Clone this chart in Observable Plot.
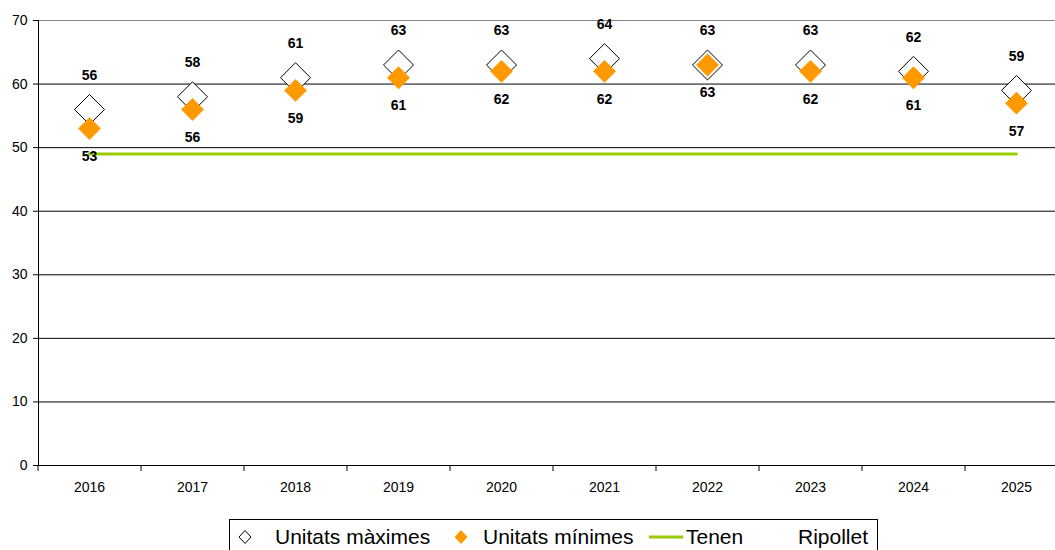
<!DOCTYPE html>
<html>
<head>
<meta charset="utf-8">
<script src="https://cdn.jsdelivr.net/npm/d3@7"></script>
<script src="https://cdn.jsdelivr.net/npm/@observablehq/plot@0.6"></script>
<style>
  html, body { margin: 0; padding: 0; background: #fff; overflow: hidden; width: 1055px; height: 550px; }
  body { font-family: "Liberation Sans", Arial, sans-serif; position: relative; }
  #chart svg { display: block; overflow: hidden; }
  #legend {
    position: absolute; left: 229px; top: 519px; width: 649px; height: 40px;
    border: 1px solid #000; box-sizing: border-box; background: #fff;
    font-size: 21px; color: #000; white-space: nowrap;
  }
  #legend .item { position: absolute; top: 5px; line-height: 24px; }
  #legend svg { position: absolute; }
</style>
</head>
<body>
<div id="chart"></div>
<div id="legend"></div>
<script>
const years = [2016, 2017, 2018, 2019, 2020, 2021, 2022, 2023, 2024, 2025];
const unitatsMaximes = [56, 58, 61, 63, 63, 64, 63, 63, 62, 59];
const unitatsMinimes = [53, 56, 59, 61, 62, 62, 63, 62, 61, 57];
const tenen = [49, 49, 49, 49, 49, 49, 49, 49, 49, 49];
const ripollet = [];
const yTicks = [0, 10, 20, 30, 40, 50, 60, 70];
const seriesNames = ["Unitats màximes", "Unitats mínimes", "Tenen", "Ripollet"];

const maxData = years.map((y, i) => ({year: y, value: unitatsMaximes[i]}));
const minData = years.map((y, i) => ({year: y, value: unitatsMinimes[i]}));
const tenenData = years.map((y, i) => ({year: y, value: tenen[i]}));
const boundaries = years.map(y => y - 0.5).concat([years[years.length - 1] + 0.5]);

const chart = Plot.plot({
  width: 1055,
  height: 512,
  marginLeft: 38,
  marginRight: 0,
  marginTop: 20,
  marginBottom: 47,
  style: {fontFamily: "Liberation Sans, Arial, sans-serif", fontSize: "13px", color: "#000", background: "#fff"},
  x: {type: "linear", domain: [years[0] - 0.5, years[years.length - 1] + 0.5], range: [37.5, 1067.5]},
  y: {domain: [0, 70], range: [465, 20]},
  marks: [
    Plot.ruleY(yTicks.filter(t => t < 70), {stroke: "#000", strokeWidth: 1}),
    Plot.ruleY([70], {stroke: "#888", strokeWidth: 1}),
    Plot.frame({anchor: "left", stroke: "#000"}),
    Plot.axisY({ticks: yTicks, tickSize: 5, tickPadding: 6, fontSize: 14, label: null, tickFormat: d => String(d)}),
    Plot.axisX({ticks: boundaries, tickSize: 6, tickFormat: () => "", label: null}),
    Plot.axisX({ticks: years, tickSize: 0, tickPadding: 17, fontSize: 14, label: null, tickFormat: d => String(d)}),
    ripollet.length ? Plot.line(ripollet, {x: "year", y: "value"}) : null,
    Plot.line(tenenData, {x: "year", y: "value", stroke: "#99cc00", strokeWidth: 3}),
    Plot.dot(maxData, {x: "year", y: "value", symbol: "diamond2", r: 13.5, fill: "#fff", stroke: "#000", strokeWidth: 1}),
    Plot.dot(minData, {x: "year", y: "value", symbol: "diamond2", r: 10.3, fill: "#ff9900", stroke: "none"}),
    Plot.text(maxData, {x: "year", y: "value", text: d => String(d.value), dy: -34, fontSize: 14, fontWeight: "bold", fill: "#000"}),
    Plot.text(minData, {x: "year", y: "value", text: d => String(d.value), dy: 28, fontSize: 14, fontWeight: "bold", fill: "#000"})
  ]
});
document.getElementById("chart").appendChild(chart);

// Legend
const legend = document.getElementById("legend");
const items = [
  {name: seriesNames[0], sym: "open", symX: 15, textX: 45},
  {name: seriesNames[1], sym: "fill", symX: 231, textX: 253},
  {name: seriesNames[2], sym: "line", symX: 419, textX: 456},
  {name: seriesNames[3], sym: "none", symX: 0, textX: 568}
];
for (const it of items) {
  if (it.sym === "open" || it.sym === "fill") {
    const s = document.createElementNS("http://www.w3.org/2000/svg", "svg");
    s.setAttribute("width", 16); s.setAttribute("height", 16);
    s.style.left = (it.symX - 8) + "px"; s.style.top = "9px";
    const p = document.createElementNS("http://www.w3.org/2000/svg", "path");
    p.setAttribute("d", it.sym === "open" ? "M8,1.5L14,8L8,14.5L2,8Z" : "M8,1L14.5,8L8,15L1.5,8Z");
    p.setAttribute("fill", it.sym === "open" ? "#fff" : "#ff9900");
    p.setAttribute("stroke", it.sym === "open" ? "#000" : "none");
    s.appendChild(p);
    legend.appendChild(s);
  } else if (it.sym === "line") {
    const s = document.createElementNS("http://www.w3.org/2000/svg", "svg");
    s.setAttribute("width", 34); s.setAttribute("height", 6);
    s.style.left = it.symX + "px"; s.style.top = "14px";
    const l = document.createElementNS("http://www.w3.org/2000/svg", "line");
    l.setAttribute("x1", 0); l.setAttribute("x2", 34); l.setAttribute("y1", 3); l.setAttribute("y2", 3);
    l.setAttribute("stroke", "#99cc00"); l.setAttribute("stroke-width", 3);
    s.appendChild(l);
    legend.appendChild(s);
  }
  const t = document.createElement("div");
  t.className = "item";
  t.style.left = it.textX + "px";
  t.textContent = it.name;
  legend.appendChild(t);
}
</script>
</body>
</html>
